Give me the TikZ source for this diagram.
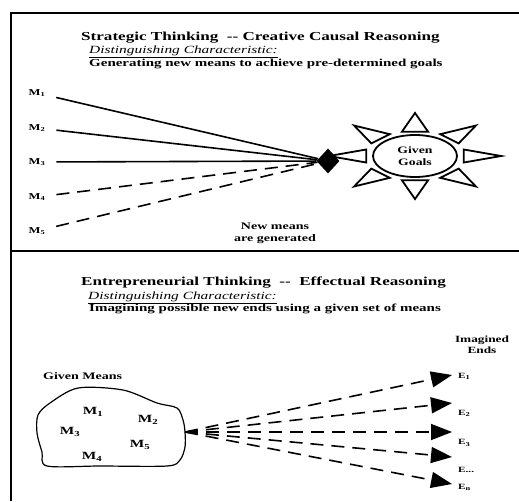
\documentclass[tikz,border=0pt]{standalone}
\usepackage{fontspec}
\setmainfont{Liberation Serif}[FakeStretch=1.4]
\newfontfamily\slantfont{Liberation Serif}[FakeStretch=1.4]
\usetikzlibrary{arrows.meta,positioning,shapes.geometric}

\begin{document}
\begin{tikzpicture}[
x=1pt, y=-1pt,
frame/.style={line width=1.6pt},
heading/.style={anchor=west, inner sep=0pt, font=\bfseries\fontsize{12.2}{14}\selectfont},
charac/.style={anchor=west, inner sep=0pt, font=\slantfont\itshape\fontsize{11}{12}\selectfont},
descr/.style={anchor=west, inner sep=0pt, font=\bfseries\fontsize{10.7}{12}\selectfont},
mlabel/.style={inner sep=1pt, font=\bfseries\fontsize{9}{10}\selectfont},
elabel/.style={anchor=west, inner sep=1pt, font=\bfseries\fontsize{8}{9}\selectfont},
blobm/.style={inner sep=1pt, font=\bfseries\fontsize{11}{13}\selectfont},
note/.style={align=center, inner sep=0pt, font=\bfseries\fontsize{10}{12}\selectfont},
means/.style={line width=1.6pt, shorten <=10pt},
newmeans/.style={means, dash pattern=on 13pt off 8pt},
ends/.style={line width=1.6pt, dash pattern=on 13pt off 8pt, -{Triangle[length=21pt,width=16pt]}},
ray/.style={line width=1.8pt, line join=miter}
]
\useasboundingbox (0,0) rectangle (519,501);

% frame
\draw[frame] (11,501) -- (11,13) -- (519,13);
\draw[frame] (11,251) -- (519,251);

% strategic thinking
\node[heading] (stitle) at (81,38) {Strategic Thinking\ \ -{}- Creative Causal Reasoning};
\node[charac] (schar) at (89,52) {\underline{Distinguishing Characteristic:}};
\node[descr] (sdesc) at (89,64) {Generating new means to achieve pre-determined goals};

\node[mlabel] (m1) at (37,93) {M\textsubscript{1}};
\node[mlabel] (m2) at (37,128) {M\textsubscript{2}};
\node[mlabel] (m3) at (37,162) {M\textsubscript{3}};
\node[mlabel] (m4) at (37,197) {M\textsubscript{4}};
\node[mlabel] (m5) at (37,231) {M\textsubscript{5}};

\node[diamond, fill=black, inner sep=0pt, minimum width=23pt, minimum height=25pt] (tip) at (328,161) {};

\draw[means] (m1) -- (tip);
\draw[means] (m2) -- (tip);
\draw[means] (m3) -- (tip);
\draw[newmeans] (m4) -- (tip);
\draw[newmeans] (m5) -- (tip);

\node[ellipse, draw, line width=1.8pt, minimum width=84pt, minimum height=42pt, inner sep=0pt,
      font=\bfseries\fontsize{9.8}{11.5}\selectfont, align=center] (goals) at (415,156) {Given\\Goals};
\begin{scope}[shift={(415,156)}, xscale=42, yscale=21]
\foreach \a in {0,45,...,315}
  \draw[ray] (\a-15:1.2) -- (\a:2.05) -- (\a+15:1.2) -- cycle;
\end{scope}

\node[note] (newm) at (275,233) {New means\\are generated};

% entrepreneurial thinking
\node[heading] (etitle) at (81,283) {Entrepreneurial Thinking\ \ -{}-\ \ Effectual Reasoning};
\node[charac] (echar) at (88,298) {\underline{Distinguishing Characteristic:}};
\node[descr] (edesc) at (89,309) {Imagining possible new ends using a given set of means};

\node[note, font=\bfseries\fontsize{9.5}{11}\selectfont] (imag) at (482,345) {Imagined\\Ends};
\node[note, anchor=west] (gmeans) at (43,376) {Given Means};

\draw[line width=1.2pt] plot[smooth cycle, tension=0.5] coordinates {
  (78,388) (123,390) (157,403) (177,408) (183,420) (185,432) (185,447)
  (180,460) (167,466) (100,466) (47,466) (42,452) (37,433) (38,415) (50,403)};

\node[blobm] (b1) at (93,412) {M\textsubscript{1}};
\node[blobm] (b2) at (148,420) {M\textsubscript{2}};
\node[blobm] (b3) at (70,432) {M\textsubscript{3}};
\node[blobm] (b5) at (140,445) {M\textsubscript{5}};
\node[blobm] (b4) at (92,457) {M\textsubscript{4}};

\coordinate (src) at (185,432);
\coordinate (end1) at (452,375);
\coordinate (end2) at (452,403);
\coordinate (end3) at (452,432);
\coordinate (end4) at (452,457);
\coordinate (end5) at (452,484);

\foreach \i in {1,...,5}
  \draw[ends] (src) -- (end\i);

\node[elabel] (e1) at (457,376) {E\textsubscript{1}};
\node[elabel] (e2) at (457,413) {E\textsubscript{2}};
\node[elabel] (e3) at (457,443) {E\textsubscript{3}};
\node[elabel] (e4) at (457,470) {E...};
\node[elabel] (e5) at (457,487) {E\textsubscript{n}};
\end{tikzpicture}
\end{document}
